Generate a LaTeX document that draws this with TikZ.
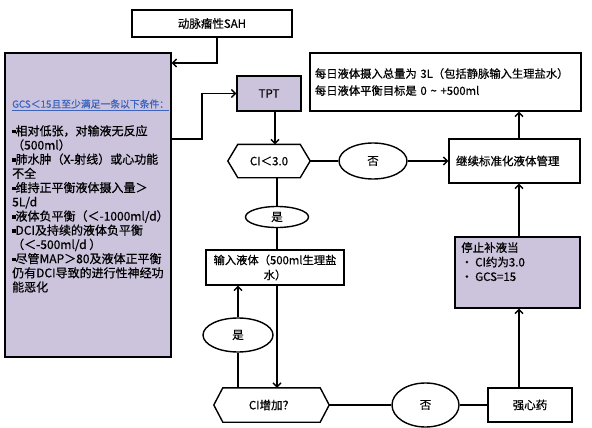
\documentclass[tikz,border=0pt]{standalone}
\usepackage{fontspec}
\setmainfont{Noto Sans CJK SC}[FakeBold=0.6]
\usetikzlibrary{arrows.meta,shapes.geometric}
\definecolor{lav}{RGB}{204,195,220}
\definecolor{gcsblue}{RGB}{60,100,190}
\newcommand\sqb{\rule[0.3ex]{0.28em}{0.28em}}
\begin{document}
\begin{tikzpicture}[x=1pt,y=-1pt,
  >={Straight Barb[length=4pt,width=8pt]},
  box/.style={draw,line width=1.4pt,rectangle,inner sep=2pt,font=\fontsize{11.5}{14}\selectfont},
  ell/.style={draw,line width=1.4pt,ellipse,fill=white,inner sep=0pt,font=\fontsize{11.5}{14}\selectfont},
  hexcore/.style={inner sep=0pt,font=\fontsize{11.5}{14}\selectfont},
  hexline/.style={draw,line width=1.4pt},
  conn/.style={draw,line width=1.3pt}]
\useasboundingbox (0,0) rectangle (592,428);

% nodes
\node[box,minimum width=160pt,minimum height=27pt] (sah) at (212,23.5) {动脉瘤性SAH};
\node[box,fill=lav,minimum width=166pt,minimum height=304pt] (left) at (88,205) {};
\node[anchor=west,text=gcsblue,font=\fontsize{9.8}{11}\selectfont,inner sep=0pt] (gcs) at (12,105) {\underline{GCS＜15且至少满足一条以下条件：}};
\node[anchor=north west,align=left,inner sep=0pt,font=\fontsize{12}{14.2}\selectfont] (crit) at (12,125) {%
\sqb 相对低张，对输液无反应\\
（500ml）\\
\sqb 肺水肿（X-射线）或心功能\\
不全\\
\sqb 维持正平衡液体摄入量＞\\
5L/d\\
\sqb 液体负平衡（＜-1000ml/d）\\
\sqb DCI及持续的液体负平衡\\
（＜-500ml/d ）\\
\sqb 尽管MAP＞80及液体正平衡\\
仍有DCI导致的进行性神经功\\
能恶化};

\node[box,fill=lav,minimum width=64pt,minimum height=35pt] (tpt) at (269,93.5) {TPT};
\node[hexcore,minimum width=62pt,minimum height=33pt] (h1) at (269,161) {CI＜3.0};
\node[ell,minimum width=68pt,minimum height=36pt] (no1) at (373,161) {否};
\node[box,minimum width=131pt,minimum height=44pt,inner xsep=7pt,text width=117pt,align=left] (cont) at (514.5,161) {继续标准化液体管理};
\node[box,minimum width=271pt,minimum height=58pt,inner xsep=5pt,text width=261pt,align=left,font=\fontsize{11.3}{17}\selectfont] (daily) at (445.5,82) {每日液体摄入总量为~3L（包括静脉输入生理盐水）\\每日液体平衡目标是~0~\textasciitilde~+500ml};
\node[box,fill=lav,minimum width=125pt,minimum height=71pt] (stop) at (517.5,272.5) {};
\node[anchor=north west,align=left,inner sep=0pt,font=\fontsize{11.5}{14.5}\selectfont] (stoptxt) at (461,242) {停止补液当\\\makebox[14pt][l]{•}CI约为3.0\\\makebox[14pt][l]{•}GCS=15};
\node[box,minimum width=84pt,minimum height=34pt] (heart) at (530,405) {强心药};
\node[ell,minimum width=67pt,minimum height=44pt] (no2) at (425.5,405) {否};
\node[hexcore,minimum width=97pt,minimum height=34pt] (h2) at (271.5,405) {CI增加？};
\node[ell,minimum width=70pt,minimum height=34pt] (yes2) at (238,335) {是};
\node[box,minimum width=138pt,minimum height=35pt,align=center,font=\fontsize{11.3}{15}\selectfont] (infuse) at (275,267.5) {输入液体（500ml生理盐\\水）};
\node[ell,minimum width=63pt,minimum height=21pt] (yes1) at (277,217) {是};

% hexagon outlines
\draw[hexline] (h1.north west) -- (h1.north east) -- ([xshift=10pt]h1.east) -- (h1.south east) -- (h1.south west) -- ([xshift=-10pt]h1.west) -- cycle;
\draw[hexline] (h2.north west) -- (h2.north east) -- ([xshift=9pt]h2.east) -- (h2.south east) -- (h2.south west) -- ([xshift=-9pt]h2.west) -- cycle;

% helper coordinates
\coordinate (c63) at (0,63);
\coordinate (c139) at (0,139);
\coordinate (b1) at (202,139);
\coordinate (b2) at (202,93.5);
\coordinate (vx) at (519,0);
\coordinate (x277) at (277,0);
\coordinate (x238) at (238,0);

% connectors
\draw[conn,->] ([xshift=5pt]sah.south) |- (left.east |- c63);
\draw[conn,->] (left.east |- c139) -- (b1) -- (b2) -- (tpt.west);
\draw[conn,->] ([xshift=6pt]tpt.south) -- ([xshift=6pt]tpt.south |- h1.north);
\draw[conn] ([xshift=10pt]h1.east) -- (no1.west);
\draw[conn,->] (no1.east) -- (cont.west);
\draw[conn,->] (cont.north -| vx) -- (daily.south -| vx);
\draw[conn,->] (stop.north -| vx) -- (cont.south -| vx);
\draw[conn,->] (heart.north -| vx) -- (stop.south -| vx);
\draw[conn] (h1.south -| x277) -- (yes1.north);
\draw[conn] (yes1.south) -- (infuse.north -| x277);
\draw[conn,->] (infuse.south -| x277) -- (h2.north -| x277);
\draw[conn] (h2.north -| x238) -- (yes2.south);
\draw[conn,->] (yes2.north) -- (infuse.south -| x238);
\draw[conn] ([xshift=9pt]h2.east) -- (no2.west);
\draw[conn] (no2.east) -- (heart.west);
\end{tikzpicture}
\end{document}
